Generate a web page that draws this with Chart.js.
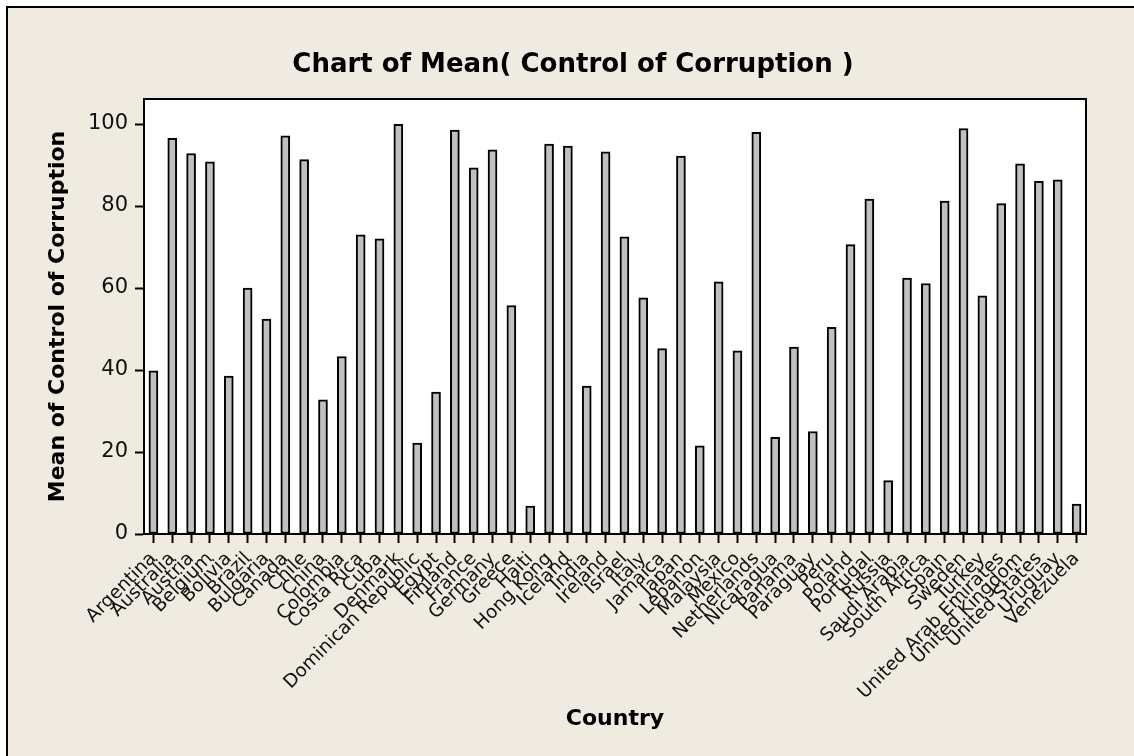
<!DOCTYPE html>
<html lang="en">
<head>
    <meta charset="UTF-8">
    <script src="https://cdn.jsdelivr.net/npm/chart.js@4.4.0/dist/chart.umd.min.js"></script>
    <title>Chart of Mean( Control of Corruption )</title>
    <style>
        body { margin: 0; background: #fff; }
        #wrap { width: 1134px; height: 756px; }
    </style>
</head>
<body>
    <div id="wrap">
        <canvas id="barChart" width="1134" height="756"></canvas>
    </div>
    <script>
        // countries on the x axis
        const countries = [
            'Argentina', 'Australia', 'Austria', 'Belgium', 'Bolivia', 'Brazil', 'Bulgaria', 'Canada',
            'Chile', 'China', 'Colombia', 'Costa Rica', 'Cuba', 'Denmark', 'Dominican Republic', 'Egypt',
            'Finland', 'France', 'Germany', 'Greece', 'Haiti', 'Hong Kong', 'Iceland', 'India',
            'Ireland', 'Israel', 'Italy', 'Jamaica', 'Japan', 'Lebanon', 'Malaysia', 'Mexico',
            'Netherlands', 'Nicaragua', 'Panama', 'Paraguay', 'Peru', 'Poland', 'Portugal', 'Russia',
            'Saudi Arabia', 'South Africa', 'Spain', 'Sweden', 'Turkey', 'United Arab Emirates',
            'United Kingdom', 'United States', 'Uruguay', 'Venezuela'
        ];
        // mean of control of corruption, one per country
        const meanCorruption = [
            39.8, 96.5, 92.8, 90.8, 38.5, 60.0, 52.4, 97.1,
            91.3, 32.7, 43.3, 73.0, 72.0, 99.9, 22.2, 34.6,
            98.5, 89.3, 93.7, 55.7, 6.8, 95.1, 94.6, 36.1,
            93.2, 72.5, 57.6, 45.2, 92.2, 21.5, 61.5, 44.7,
            98.0, 23.6, 45.6, 25.0, 50.4, 70.6, 81.7, 13.0,
            62.4, 61.1, 81.2, 98.9, 58.1, 80.6,
            90.3, 86.0, 86.4, 7.3
        ];
        const yTicks = [0, 20, 40, 60, 80, 100];

        const FONT = "'DejaVu Sans', Verdana, sans-serif";

        // beige frame behind everything, white plot area, box around it
        const framePlugin = {
            id: 'frame',
            beforeDraw(chart) {
                const ctx = chart.ctx;
                const a = chart.chartArea;
                ctx.save();
                ctx.fillStyle = '#ffffff';
                ctx.fillRect(0, 0, chart.width, chart.height);
                ctx.fillStyle = '#efebe1';
                ctx.fillRect(8, 8, chart.width - 8, chart.height - 8);
                ctx.strokeStyle = '#000';
                ctx.lineWidth = 2;
                ctx.beginPath();
                ctx.moveTo(7, chart.height);
                ctx.lineTo(7, 7);
                ctx.lineTo(chart.width, 7);
                ctx.stroke();
                ctx.fillStyle = '#ffffff';
                ctx.fillRect(a.left, a.top, a.right - a.left, a.bottom - a.top);
                ctx.restore();
            },
            afterDraw(chart) {
                const ctx = chart.ctx;
                const a = chart.chartArea;
                ctx.save();
                ctx.strokeStyle = '#000';
                ctx.lineWidth = 2;
                ctx.beginPath();
                ctx.moveTo(a.left, a.top);
                ctx.lineTo(a.right, a.top);
                ctx.lineTo(a.right, a.bottom);
                ctx.stroke();
                ctx.restore();
            }
        };

        let barCtx = document.getElementById('barChart');
        let barConfig = {
            type: 'bar',
            data: {
                labels: countries,
                datasets: [{
                    data: meanCorruption,
                    backgroundColor: '#c0c0c0',
                    borderColor: '#000000',
                    borderWidth: 2,
                    borderSkipped: false,
                    barThickness: 9,
                }]
            },
            options: {
                responsive: false,
                animation: false,
                layout: { padding: { left: 12, right: 0, top: 0, bottom: 0 } },
                plugins: {
                    legend: { display: false },
                    tooltip: { enabled: false },
                    title: {
                        display: true,
                        text: 'Chart of Mean( Control of Corruption )',
                        color: '#000',
                        font: { family: FONT, size: 26, weight: 'bold' },
                        padding: { top: 49.4, bottom: 18.4 },
                    },
                },
                scales: {
                    x: {
                        type: 'category',
                        offset: true,
                        grid: {
                            display: true,
                            drawOnChartArea: false,
                            drawTicks: true,
                            tickLength: 9,
                            tickWidth: 2,
                            tickColor: '#000',
                            offset: false,
                        },
                        border: { display: true, color: '#000', width: 2 },
                        ticks: {
                            autoSkip: false,
                            minRotation: 45,
                            maxRotation: 45,
                            padding: 5,
                            color: '#111',
                            font: { family: FONT, size: 18.5 },
                        },
                        title: {
                            display: true,
                            text: 'Country',
                            color: '#000',
                            font: { family: FONT, size: 22, weight: 'bold' },
                            padding: { top: 0, bottom: 23.1 },
                        },
                        afterFit(scale) { scale.height = 222; },
                    },
                    y: {
                        position: 'left',
                        min: 0,
                        max: 106.1,
                        grid: {
                            display: true,
                            drawOnChartArea: false,
                            drawTicks: true,
                            tickLength: 9,
                            tickWidth: 2,
                            tickColor: '#000',
                        },
                        border: { display: true, color: '#000', width: 2 },
                        afterBuildTicks(scale) {
                            scale.ticks = yTicks.map(v => ({ value: v }));
                        },
                        ticks: {
                            includeBounds: false,
                            padding: 7,
                            color: '#111',
                            font: { family: FONT, size: 21 },
                        },
                        title: {
                            display: true,
                            text: 'Mean of Control of Corruption',
                            color: '#000',
                            font: { family: FONT, size: 22, weight: 'bold' },
                            padding: { top: 33.2, bottom: 0 },
                        },
                        afterFit(scale) { scale.width = 132; },
                    },
                    // empty right axis, only keeps the space right of the plot
                    yRight: {
                        position: 'right',
                        display: true,
                        grid: { display: false },
                        border: { display: false },
                        ticks: { display: false },
                        afterFit(scale) { scale.width = 48; },
                    },
                },
            },
            plugins: [framePlugin],
        };
        let barChart = new Chart(barCtx, barConfig);
    </script>
</body>
</html>
